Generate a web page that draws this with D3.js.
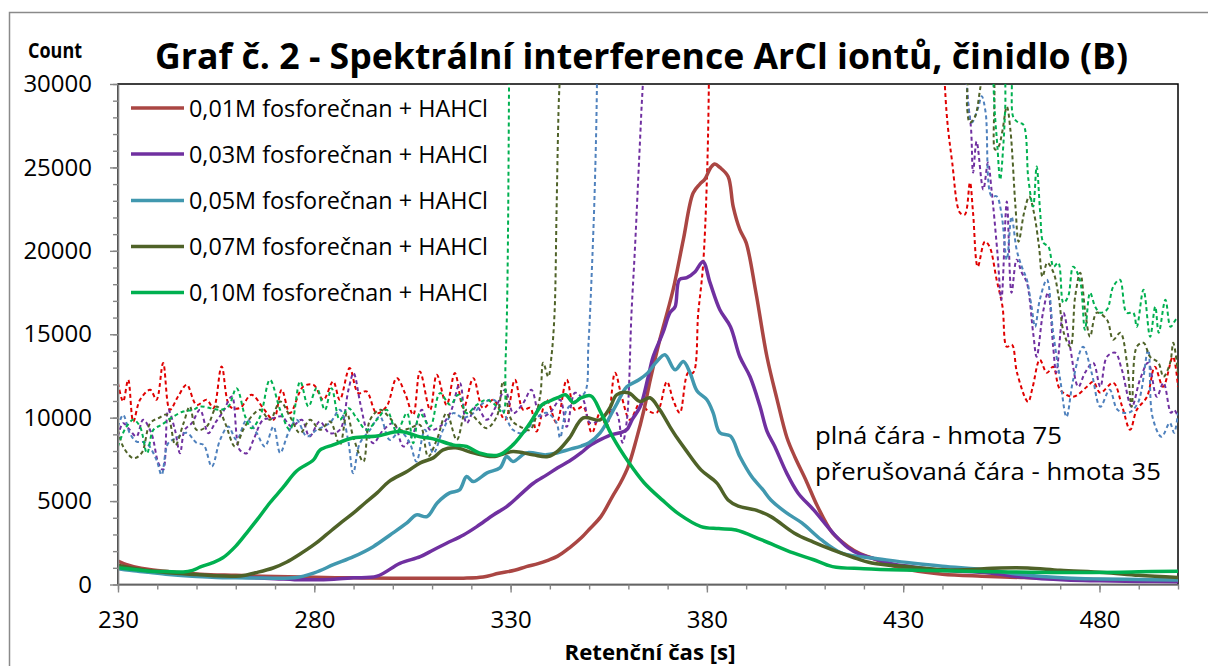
<!DOCTYPE html>
<html><head><meta charset="utf-8">
<script src="https://cdn.jsdelivr.net/npm/d3@7"></script>
<style>body{margin:0;background:#fff} svg{display:block} text{font-family:"Open Sans",sans-serif;fill:#000}</style>
</head><body><svg id="c" width="1208" height="666"></svg>
<script>
// ---------- DATA ----------
const seriesNames = ["0,01M fosforečnan + HAHCl","0,03M fosforečnan + HAHCl","0,05M fosforečnan + HAHCl","0,07M fosforečnan + HAHCl","0,10M fosforečnan + HAHCl"];
const xTickLabels = [230,280,330,380,430,480];
const yTickLabels = [0,5000,10000,15000,20000,25000,30000];
const xMinorTicks = [230,240,250,260,270,280,290,300,310,320,330,340,350,360,370,380,390,400,410,420,430,440,450,460,470,480,490,500];
const yMinorTicks = [0,1000,2000,3000,4000,5000,6000,7000,8000,9000,10000,11000,12000,13000,14000,15000,16000,17000,18000,19000,20000,21000,22000,23000,24000,25000,26000,27000,28000,29000,30000];

// mass 75 (solid lines)  [time s, count]
const m75_001 = [[230,1400],[232,1200],[234,1070],[238,900],[243,770],[251,620],[260,550],[270,480],[280,430],[290,400],[300,380],[310,370],[318,380],[323,450],[327,670],[331,850],[334,1070],[337,1250],[339.5,1450],[342,1700],[345,2200],[348,2800],[350,3300],[353,4070],[356,5300],[358,6100],[360,7100],[362,8670],[364,10500],[365.6,12300],[368,14670],[370,16400],[371.4,17670],[374,20670],[376.5,23470],[378.2,24000],[379.5,24300],[381,25000],[382,25200],[383.3,25000],[385.4,24450],[386.7,22650],[388.4,21270],[390,20490],[392.5,17490],[395.3,13650],[397.9,11070],[400.4,8800],[402.5,7600],[405.2,6270],[408.2,4670],[412,3090],[416,2270],[419,1850],[422,1590],[427,1150],[432,870],[440,620],[450,500],[460,420],[470,350],[480,300],[490,280],[500,250]];
const m75_003 = [[230,1050],[233,900],[237,800],[243,650],[250,550],[260,450],[270,350],[275,290],[280,280],[285,320],[290,400],[296,500],[301.8,1270],[307,1670],[310.3,2070],[313.7,2470],[318,2970],[321.4,3470],[325.6,4170],[329,4670],[332.4,5370],[335.8,6070],[339.2,6570],[342,7000],[345,7400],[348,7900],[350,8300],[353,8700],[356,9000],[358,9100],[359.6,9270],[361,9900],[363,10650],[365,12400],[366.3,13650],[368.8,15090],[370.6,16290],[371.9,16650],[373,18270],[374.9,18390],[377,18750],[379,19350],[380.8,18090],[383.3,16470],[386,15450],[388.4,13650],[391,12450],[393.5,10700],[395.3,9200],[397.3,8270],[400.3,6690],[403.2,5490],[407.2,4470],[412.1,3090],[416,2190],[419,1800],[422,1590],[427,1250],[432,1070],[440,850],[451.8,690],[460,450],[471.5,270],[480,220],[490,180],[500,170]];
const m75_005 = [[230,950],[233,850],[237,750],[243,600],[250,480],[255,420],[260,400],[265,390],[270,380],[275,400],[280,700],[285,1200],[290,1670],[295,2270],[299.3,2970],[303.6,3690],[306,4170],[308.7,4070],[311.3,4890],[314.5,5490],[317,5670],[318.8,6470],[320.5,6170],[324,6690],[327.3,6990],[329,7670],[330.6,7370],[334,7890],[339,7770],[342,7900],[345,8100],[348,8300],[350,8500],[352.8,9090],[356.7,10670],[359.6,11850],[362.7,12270],[365,12700],[367,13300],[369.3,13770],[371.9,12870],[374,13370],[375.7,12690],[377.5,11600],[380,11070],[381.6,10290],[383.3,9090],[386,8900],[388.4,7670],[391.4,6470],[394.3,5670],[396.3,5070],[400.3,4290],[404.2,3690],[409.2,2670],[414.2,1890],[418,1700],[422,1590],[432,1290],[440,1100],[451.8,870],[460,600],[471.5,390],[480,330],[490,300],[500,270]];
const m75_007 = [[230,1150],[233,1000],[237,850],[243,700],[250,600],[255,520],[260,500],[262,540],[265,700],[269.5,990],[273,1350],[276,1770],[280,2400],[283,2970],[286.5,3650],[290,4290],[293,4900],[296,5490],[299,6170],[303.6,6770],[307,7290],[310.3,7590],[312.8,8070],[316,8190],[320.5,7890],[325.5,7670],[330.6,7970],[335.7,7770],[339.5,7670],[342,8000],[345,8790],[348.5,9990],[352.8,9870],[355.3,10590],[357,11370],[360,11490],[363,10970],[365.5,11190],[368,10470],[370.6,9450],[372.4,8790],[374.6,8070],[378.5,6870],[382.5,6090],[385.4,5070],[388,4700],[392.3,4470],[396.3,4070],[402.2,3090],[407,2550],[412,2070],[417,1650],[422,1290],[432,1050],[442,870],[454.7,990],[461.7,990],[470,850],[481,720],[490,550],[500,420]];
const m75_010 = [[230,1000],[234,900],[238,800],[242,780],[246.6,750],[249,850],[251,1050],[254,1300],[256.7,1600],[260,2300],[262.8,3100],[265.5,3900],[268.7,4900],[272,5800],[275.5,6800],[279.8,7470],[281.5,8070],[284.8,8370],[290,8800],[296,8900],[301.8,9170],[307,8850],[310.3,8730],[315.3,8370],[318.8,8270],[322,7890],[327,7770],[330.6,8370],[335,9690],[338,10770],[340,11000],[342,11200],[344,11370],[346,10900],[348,11200],[350.5,11300],[353,10300],[356,8850],[360.2,7280],[364,6100],[368.6,5070],[373,4200],[378.5,3470],[383,3350],[387.4,3270],[394,2670],[402,1890],[407,1500],[412,1070],[420,950],[430,870],[450,780],[470,720],[490,760],[500,800]];

// mass 35 (dashed lines)  [time s, count]
const m35_001 = [[230,12070],[231.3,10970],[232.6,12270],[233.9,9770],[235.6,11070],[238.2,11670],[239.8,11070],[241.5,13270],[243.2,10470],[245.3,11270],[247.5,11970],[250,10770],[252.6,11070],[254.3,10570],[256.4,13070],[258.5,10670],[261,10570],[264,11370],[267,10570],[269.6,9870],[271.7,11670],[273.8,10270],[277.2,11870],[279.8,11970],[282.3,11070],[284.8,12170],[286.5,11070],[289,12970],[291.2,11470],[293.3,11570],[295.9,10270],[298.4,10670],[301,12370],[303.1,11470],[305.2,10170],[306.9,12770],[309.5,10470],[311.2,12570],[313.7,10770],[315.8,12670],[318,10570],[320.5,12370],[323,10570],[325.6,11070],[328.6,9870],[331.1,12270],[333.2,10470],[335,10590],[336.6,9170],[339.2,11070],[341.7,9690],[344.3,12270],[346.4,10470],[348.5,10650],[350.7,9090],[352.8,10290],[354.5,9450],[356.6,12690],[358.3,11250],[360.4,9870],[363,10890],[364.7,10470],[367.2,10290],[369.8,12150],[371.4,11070],[373.1,10290],[375.2,12690],[376.5,12690],[377.8,16290],[379,19050],[380,24270],[380.6,32000],[381.5,90000],[439.5,90000],[440.6,30000],[442.5,25270],[444.5,22270],[445.7,22170],[447,24090],[447.8,22270],[449,19050],[450.8,20550],[452,20250],[453.8,18270],[455.3,16650],[456.4,14250],[457.7,14370],[459,12690],[461.8,10950],[463,11850],[464.8,13470],[466.6,12690],[468.2,13050],[470,11670],[473.3,11250],[476.8,11850],[478.4,12150],[480.2,11490],[483.5,12090],[485.8,10650],[487.8,9270],[489.5,10470],[492.1,11250],[494.1,13050],[496.2,11850],[498.7,13650],[500,11850]];
const m35_003 = [[230,8870],[231.3,9670],[233,9270],[234.7,8870],[236.4,9870],[238.5,9070],[240.3,7270],[241.5,6870],[242.8,10470],[244.5,9270],[245.8,7870],[247,9270],[248.8,9670],[250.9,10470],[253,9070],[254.7,9670],[256.8,10370],[259,11270],[261,8070],[262.8,7870],[264.5,8670],[267,9870],[269.6,9970],[271.7,10070],[274.2,9470],[276.8,9870],[278.8,8870],[281.4,9770],[283.9,9070],[286.5,9270],[288.7,11670],[290,12670],[291.7,10870],[293.3,9270],[295,8470],[297.6,9270],[300.2,9670],[302.7,8270],[305.2,9070],[307.4,10470],[309.5,9270],[312,9470],[314.6,10270],[317.1,12070],[318.8,9670],[321.3,10670],[323.9,9870],[326.5,10770],[328.6,11670],[330.7,10270],[333.2,10870],[335.3,11670],[337.6,10070],[340,10290],[342.6,11070],[344.3,9450],[346.4,11490],[348.5,11070],[350.2,9690],[352.8,9870],[355.3,10470],[357,10290],[358.5,8500],[359.6,9800],[360.8,16290],[361.7,20250],[362.5,24270],[363.3,28290],[364,32000],[365,90000],[445,90000],[446.2,30000],[447.3,27270],[447.8,24690],[448.7,26550],[450.4,23670],[451.6,25290],[452.5,23670],[454,19890],[455,17070],[456.4,22950],[457.6,17490],[458.9,19470],[460.2,18690],[461.5,18090],[463.1,15090],[464,13650],[465.6,16290],[466.9,17490],[468.2,14250],[469,12690],[470.8,16290],[472.5,14250],[474.6,11850],[476.3,12690],[478.4,13290],[480.2,11850],[481.9,13650],[484,13890],[485.7,12870],[488.2,10650],[490.3,12270],[492.4,13290],[494.6,11250],[496.3,12090],[498.2,10290],[499,10470],[500,10050]];
const m35_005 = [[230,9470],[231.3,10170],[233,9070],[234.7,8570],[237.2,8490],[239.8,7470],[241.1,6570],[242.8,8470],[245,8790],[247.5,9090],[250,8490],[251.8,8370],[253.9,7070],[256,8670],[258.1,9470],[260.2,8670],[262.8,9870],[265.3,9090],[267.4,8270],[269.6,9470],[271.3,7890],[273.4,9090],[275.5,9870],[278.1,8870],[280.6,9270],[284,9690],[286.5,10470],[288.6,8670],[289.9,6670],[291.6,8470],[294.2,9270],[296.7,10070],[299.2,8670],[301.8,9170],[304.3,8490],[306,7370],[308.2,9270],[310.3,7870],[312.8,9270],[315.4,10270],[317.9,9990],[320.5,10270],[323,10870],[325.6,11070],[328.1,10370],[330.6,9270],[333.2,9070],[336.6,9990],[339.2,10290],[341.7,9690],[342.6,8790],[344.3,10470],[346.8,11070],[349,11550],[349.8,14250],[350.6,18270],[351.5,24270],[352.1,32000],[353,90000],[445,90000],[446.2,30000],[447.5,27690],[449,28500],[450,29270],[451,28290],[452.5,23270],[453.8,23270],[455,22290],[456.4,19470],[457.6,22050],[458.9,20070],[460.2,19050],[461.5,18270],[462.7,16650],[463.6,15450],[464.8,17070],[466.6,18270],[468.2,15090],[470,12270],[471.6,10050],[473.3,12270],[475.8,14250],[478,12690],[480.2,10650],[482.6,11670],[484.6,10470],[487.3,10290],[489.8,10890],[492.4,14070],[493.5,10050],[495.8,8850],[497.9,9690],[499,9090],[500,10290]];
const m35_007 = [[230,9270],[231.3,8270],[233.9,7570],[236,7870],[238.2,9670],[240.3,9970],[242.5,10170],[244.6,8370],[246.7,9670],[248.3,10670],[250,9270],[252.6,9470],[255.2,10670],[257.3,9670],[259.8,8270],[261.9,9270],[264,10070],[266.2,10470],[268.7,9870],[271.3,10970],[273.8,10070],[276.4,9070],[278.9,9870],[281.5,9270],[284,9770],[286.5,8370],[288.3,10270],[289.9,8870],[292.5,7370],[294.2,9870],[296.8,10470],[299.3,9970],[301.9,9270],[304.4,9370],[306.9,9570],[309,7670],[311.2,8670],[313.7,10270],[316.3,8670],[318.8,10470],[321.4,9870],[323.9,9370],[326.5,10070],[328.1,12170],[330.2,9870],[332.4,9470],[334.9,9270],[337.5,11270],[338.3,13290],[339.6,12450],[340.4,13650],[341.2,16290],[341.7,22290],[342.2,28290],[342.7,32000],[343.5,90000],[445.2,90000],[446.3,28500],[447,27690],[448.3,28050],[449.6,29700],[450.5,31000],[452.5,31000],[453.4,26070],[454.3,26250],[455.2,27090],[456.4,28650],[457.3,27270],[458.6,22650],[459.4,20550],[460.8,22290],[462.1,23250],[463.3,22290],[464.6,20250],[465.5,18450],[466.7,19290],[468.3,18690],[469.6,17250],[470.9,15090],[472.6,14250],[473.8,17250],[475.1,18690],[476.4,16290],[477.6,14850],[479.3,16290],[481.9,15870],[483.5,14670],[485.3,15090],[487,13290],[488.2,10650],[489.5,14250],[491.2,14490],[492.9,13650],[495,13290],[496.3,12450],[498,13290],[498.8,14490],[500,12690]];
const m35_010 = [[230,8270],[231.7,9270],[233.9,9870],[235.6,9470],[237.4,7870],[239,9270],[241.1,9570],[244.1,10070],[246.6,10370],[249.2,10470],[250.9,10670],[253.5,10570],[256,10470],[258.1,10670],[260.2,11770],[262.4,10070],[264,9370],[266.2,10070],[268.7,12270],[271.3,10470],[273.8,9270],[276.4,12170],[278.5,10670],[280.6,11770],[282.7,10470],[284.4,11770],[286.5,9870],[288.7,10570],[290.8,9970],[293.3,9270],[295.9,9870],[298.4,10470],[301,9170],[303.6,10270],[305.2,8470],[306.9,10270],[309.5,9470],[312,11470],[314.6,10770],[316.7,11370],[318.8,10270],[321.4,10770],[323.9,11070],[326.5,10670],[328.1,10270],[328.7,13290],[329.1,16670],[329.6,30000],[330.2,90000],[452,90000],[453,30000],[454,26250],[454.7,24270],[455.6,26670],[456,28650],[456.5,31000],[457.3,31000],[458,28050],[459.3,27690],[460.6,27570],[461.9,24270],[463.1,22650],[464,25050],[464.9,22290],[465.7,20490],[467,20250],[468.3,19050],[469.5,19290],[470.8,16890],[472,17250],[473.3,19050],[475,18270],[476.3,15270],[477.6,17490],[478.9,16650],[480.2,16290],[481.9,16470],[483.5,17850],[485.2,18270],[486.9,16290],[488.6,16290],[489.5,15450],[491.2,17670],[492.9,14850],[494.2,16650],[495.1,15090],[496.8,17070],[498.1,15450],[499.4,15870],[500,16050]];

const solidSeries = [m75_001,m75_003,m75_005,m75_007,m75_010];
const dashedSeries = [m35_001,m35_003,m35_005,m35_007,m35_010];
const solidColors = ["#AA4643","#7030A0","#4198AF","#4F6228","#00B050"];
const dashColors = ["#E00000","#7030A0","#4F81BD","#4F6228","#00B050"];

// ---------- CHART ----------
const svg = d3.select("#c");
const L = 118, R = 1178, T = 84, B = 584.5;
const x = d3.scaleLinear().domain([230,500]).range([L,R]);
const y = d3.scaleLinear().domain([0,30000]).range([B,T]);

// outer chart border
svg.append("path").attr("d","M9.5,700V12.5H1230").attr("fill","none").attr("stroke","#8a8a8a").attr("stroke-width",1.5);

// plot area border
svg.append("rect").attr("x",L).attr("y",T).attr("width",R-L).attr("height",B-T)
  .attr("fill","none").attr("stroke","#000").attr("stroke-width",1.5);

svg.append("clipPath").attr("id","clip").append("rect").attr("x",L).attr("y",T).attr("width",R-L).attr("height",B-T);

const line = d3.line().x(d=>x(d[0])).y(d=>y(d[1])).curve(d3.curveCatmullRom.alpha(0.5));
const plot = svg.append("g").attr("clip-path","url(#clip)");

dashedSeries.forEach((s,i)=>{
  plot.append("path").attr("d",line(s)).attr("fill","none").attr("stroke",dashColors[i])
    .attr("stroke-width",2).attr("stroke-dasharray","4,3");
});
solidSeries.forEach((s,i)=>{
  plot.append("path").attr("d",line(s)).attr("fill","none").attr("stroke",solidColors[i])
    .attr("stroke-width",3.5).attr("stroke-linejoin","round");
});

// axes
const axisColor = "#868686";
function styleAxis(g){
  g.selectAll(".domain").attr("stroke",axisColor).attr("stroke-width",1.6);
  g.selectAll(".tick line").attr("stroke",axisColor).attr("stroke-width",1.4);
  g.selectAll("text").attr("font-family","'Open Sans',sans-serif").attr("font-size",24).attr("fill","#000");
}
svg.append("g").attr("transform",`translate(0,${B})`)
  .call(d3.axisBottom(x).tickValues(xMinorTicks).tickSize(5).tickSizeOuter(0).tickFormat(""))
  .call(styleAxis);
svg.append("g").attr("transform",`translate(0,${B})`)
  .call(d3.axisBottom(x).tickValues(xTickLabels).tickSize(8).tickSizeOuter(0).tickPadding(18).tickFormat(d3.format("d")))
  .call(styleAxis).call(g=>g.select(".domain").remove());
svg.append("g").attr("transform",`translate(${L},0)`)
  .call(d3.axisLeft(y).tickValues(yMinorTicks).tickSize(5).tickSizeOuter(0).tickFormat(""))
  .call(styleAxis);
svg.append("g").attr("transform",`translate(${L},0)`)
  .call(d3.axisLeft(y).tickValues(yTickLabels).tickSize(8).tickSizeOuter(0).tickPadding(18).tickFormat(d3.format("d")))
  .call(styleAxis).call(g=>g.select(".domain").remove());

// texts
function txt(str,xp,yp,size,bold,len,anchor){
  const t = svg.append("text").attr("x",xp).attr("y",yp).attr("font-size",size)
    .attr("font-weight",bold?"bold":"normal").attr("text-anchor",anchor||"start").text(str);
  if(len){ t.attr("textLength",len).attr("lengthAdjust","spacingAndGlyphs"); }
  return t;
}
txt("Graf č. 2 - Spektrální interference ArCl iontů, činidlo (B)",155,69,36,true,973);
txt("Count",28,58,22,true,54);
txt("Retenční čas [s]",650,660,21,true,171,"middle");
txt("plná čára - hmota 75",815,444,23,false,247);
txt("přerušovaná čára - hmota 35",815,480,23,false,346);

// legend
const legRows = [108,154,200.5,246.5,292.5];
seriesNames.forEach((n,i)=>{
  svg.append("line").attr("x1",131).attr("x2",184).attr("y1",legRows[i]).attr("y2",legRows[i])
    .attr("stroke",solidColors[i]).attr("stroke-width",3.5);
  txt(n,189,legRows[i]+8.5,23,false,299);
});
</script></body></html>
